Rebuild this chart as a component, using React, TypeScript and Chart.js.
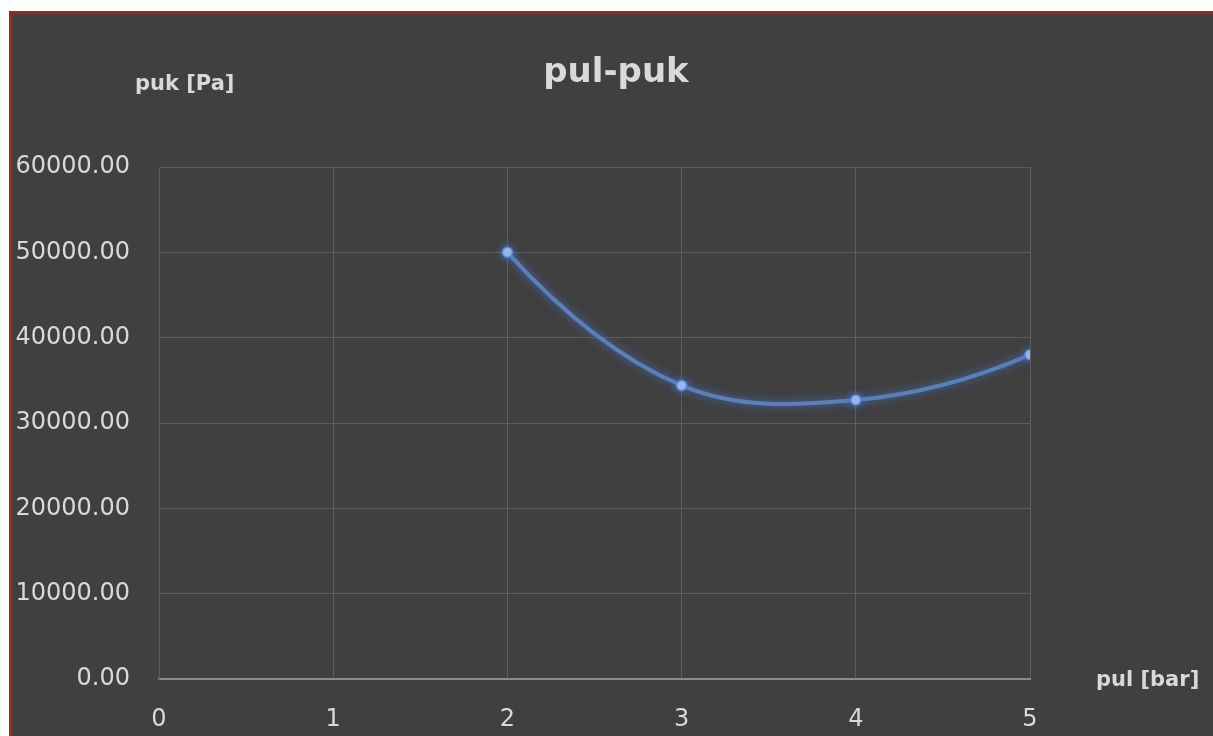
import React, { useEffect, useRef } from "react";
import { Chart, registerables } from "chart.js";

Chart.register(...registerables);

const pulBar = [2, 3, 4, 5];
const pukPa = [50000, 34400, 32700, 38000];
const xTicks = [0, 1, 2, 3, 4, 5];
const yTicks = [0, 10000, 20000, 30000, 40000, 50000, 60000];
const chartTitle = "pul-puk";
const yTitle = "puk [Pa]";
const xTitle = "pul [bar]";

const W = 1213;
const H = 736;
const BG = "#404040";
const TXT = "#d9d9d9";
const GRID = "#5e5e5e";

// Excel-like smoothing: Catmull-Rom interior tangents, quadratic end tangents,
// computed from the points' pixel positions produced by the scales.
function excelSmooth(pts: any[]) {
  const n = pts.length;
  if (n < 3) return;
  const T: { x: number; y: number }[] = [];
  for (let i = 1; i < n - 1; i++) {
    T[i] = { x: (pts[i + 1].x - pts[i - 1].x) / 2, y: (pts[i + 1].y - pts[i - 1].y) / 2 };
  }
  T[0] = { x: 2 * (pts[1].x - pts[0].x) - T[1].x, y: 2 * (pts[1].y - pts[0].y) - T[1].y };
  T[n - 1] = {
    x: 2 * (pts[n - 1].x - pts[n - 2].x) - T[n - 2].x,
    y: 2 * (pts[n - 1].y - pts[n - 2].y) - T[n - 2].y,
  };
  for (let i = 0; i < n; i++) {
    const p = pts[i];
    p.cp1x = p.x - T[i].x / 3;
    p.cp1y = p.y - T[i].y / 3;
    p.cp2x = p.x + T[i].x / 3;
    p.cp2y = p.y + T[i].y / 3;
  }
}

const framePlugin = {
  id: "frame",
  beforeDraw(chart: any) {
    const ctx = chart.ctx;
    ctx.save();
    ctx.fillStyle = "#ffffff";
    ctx.fillRect(0, 0, W, H);
    ctx.fillStyle = BG;
    ctx.fillRect(12, 13, W - 12, H - 13);
    ctx.fillStyle = "#b0201f";
    ctx.fillRect(9, 11, W - 9, 3);
    ctx.fillRect(9, 11, 3, H - 11);
    ctx.restore();
  },
  beforeDatasetDraw(chart: any, args: any) {
    const meta = args.meta;
    if (meta.dataset && meta.dataset.updateControlPoints) {
      meta.dataset.updateControlPoints(chart.chartArea, "x");
      excelSmooth(meta.data);
    }
  },
  beforeDatasetsDraw(chart: any) {
    const ctx = chart.ctx;
    ctx.save();
    ctx.shadowColor = "rgba(70,120,210,0.85)";
    ctx.shadowBlur = 9;
  },
  afterDatasetsDraw(chart: any) {
    chart.ctx.restore();
  },
  afterDraw(chart: any) {
    const ctx = chart.ctx;
    const area = chart.chartArea;
    ctx.save();
    ctx.fillStyle = TXT;
    ctx.textBaseline = "alphabetic";
    ctx.textAlign = "center";
    ctx.font = "bold 34px 'DejaVu Sans'";
    ctx.fillText(chartTitle, 616, 82);
    ctx.font = "bold 21px 'DejaVu Sans'";
    ctx.textAlign = "left";
    ctx.fillText(yTitle, 135, 90);
    ctx.textBaseline = "middle";
    ctx.fillText(xTitle, area.right + 66, area.bottom + 2);
    ctx.restore();
  },
};

export default function App() {
  const ref = useRef<HTMLCanvasElement>(null);
  useEffect(() => {
    const canvas = ref.current;
    if (!canvas) return;
    const chart = new Chart(canvas, {
      type: "scatter",
      data: {
        datasets: [
          {
            data: pulBar.map((x, i) => ({ x, y: pukPa[i] })),
            showLine: true,
            tension: 0.4,
            borderColor: "#5b80b8",
            borderWidth: 4,
            pointRadius: 5,
            pointBackgroundColor: "#a6c3f0",
            pointBorderColor: "#5d8ad4",
            pointBorderWidth: 1.5,
          } as any,
        ],
      },
      options: {
        responsive: false,
        animation: false,
        devicePixelRatio: 1,
        layout: { padding: { top: 167, left: 0, right: W - 1030, bottom: 0 } },
        plugins: {
          legend: { display: false },
          tooltip: { enabled: false },
          title: { display: false },
        },
        scales: {
          x: {
            type: "linear",
            min: xTicks[0],
            max: xTicks[xTicks.length - 1],
            afterBuildTicks: (s: any) => {
              s.ticks = xTicks.map((v) => ({ value: v }));
            },
            afterFit: (s: any) => {
              s.height = H - 679;
              s.paddingLeft = 0;
              s.paddingRight = 0;
            },
            ticks: {
              color: TXT,
              font: { family: "'DejaVu Sans'", size: 24 },
              padding: 26,
              maxRotation: 0,
              callback: (v: any) => String(v),
            },
            grid: { color: GRID, lineWidth: 1, drawTicks: false },
            border: { color: "#8c8c8c", width: 2 },
          },
          y: {
            type: "linear",
            min: yTicks[0],
            max: yTicks[yTicks.length - 1],
            afterBuildTicks: (s: any) => {
              s.ticks = yTicks.map((v) => ({ value: v }));
            },
            afterFit: (s: any) => {
              s.width = 159;
              s.paddingTop = 0;
              s.paddingBottom = 0;
            },
            ticks: {
              color: TXT,
              font: { family: "'DejaVu Sans'", size: 24 },
              padding: 29,
              callback: (v: any) => Number(v).toFixed(2),
            },
            grid: { color: GRID, lineWidth: 1, drawTicks: false },
            border: { color: GRID, width: 1 },
          },
        },
      },
      plugins: [framePlugin],
    } as any);
    return () => chart.destroy();
  }, []);
  return (
    <div style={{ position: "fixed", left: 0, top: 0, width: W, height: H }}>
      <canvas ref={ref} width={W} height={H} style={{ display: "block", width: W, height: H }} />
    </div>
  );
}
